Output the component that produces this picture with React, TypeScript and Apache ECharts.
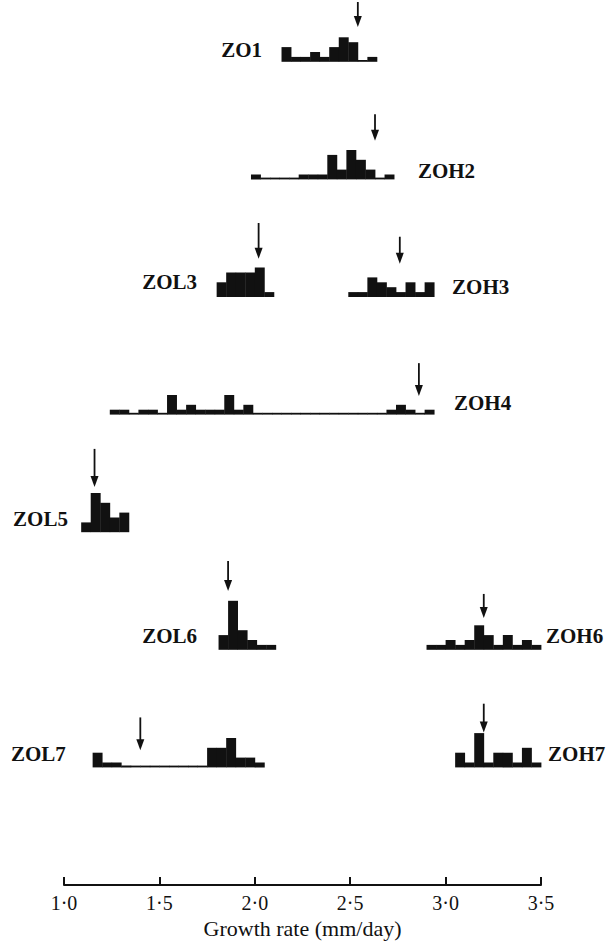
import React, { useEffect, useRef } from "react";
import * as echarts from "echarts";

// ---- data ----
const histNames = ["ZO1", "ZOH2", "ZOL3", "ZOH3", "ZOH4", "ZOL5", "ZOL6", "ZOH6", "ZOL7", "ZOH7"];
const histRows = [7, 6, 5, 5, 4, 3, 2, 2, 1, 1];
const histStarts = [2.14, 1.98, 1.8, 2.49, 1.24, 1.09, 1.81, 2.9, 1.15, 3.05];
const binWidth = 0.05;

const countsZO1 = [3, 1, 1, 2, 1, 3, 5, 4, 0, 1];
const countsZOH2 = [1, 0, 0, 0, 0, 1, 1, 1, 5, 2, 6, 4, 2, 0, 1];
const countsZOL3 = [3, 5, 5, 5, 6, 1];
const countsZOH3 = [1, 1, 4, 3, 2, 1, 3, 1, 3];
const countsZOH4 = [1, 1, 0, 1, 1, 0, 4, 1, 2, 1, 1, 1, 4, 1, 2, 0, 0, 0, 0, 0, 0, 0, 0, 0, 0, 0, 0, 0, 0, 1, 2, 1, 0, 1];
const countsZOL5 = [2, 8, 6, 3, 4];
const countsZOL6 = [3, 10, 4, 2, 1, 1];
const countsZOH6 = [1, 1, 2, 1, 2, 5, 3, 1, 3, 1, 2, 1];
const countsZOL7 = [3, 1, 1, 0, 0, 0, 0, 0, 0, 0, 0, 0, 4, 4, 6, 2, 2, 1];
const countsZOH7 = [3, 1, 7, 1, 3, 3, 1, 4, 1];
const histCounts = [countsZO1, countsZOH2, countsZOL3, countsZOH3, countsZOH4, countsZOL5, countsZOL6, countsZOH6, countsZOL7, countsZOH7];

// arrow (mean) positions, mm/day
const arrowValues = [2.54, 2.63, 2.02, 2.76, 2.86, 1.16, 1.86, 3.2, 1.4, 3.2];

const xTicks = [1.0, 1.5, 2.0, 2.5, 3.0, 3.5];

// ---- layout (count units above each row baseline) ----
const rowSpacing = 24;
const arrowTip = [7.1, 7.9, 7.8, 6.8, 3.8, 9.2, 12, 6.5, 3.5, 7.1];
const arrowLen = [5.1, 5.4, 7.3, 5.5, 6.7, 7.8, 6.1, 4.9, 6.7, 5.9];
const labelX = [2.038, 2.855, 1.697, 3.034, 3.044, 0.733, 1.697, 3.526, 0.722, 3.537];
const labelAlign = ["right", "left", "right", "left", "left", "left", "right", "left", "left", "left"];
const labelLift = [2.5, 1.7, 3.1, 2.1, 2.4, 2.7, 2.9, 2.8, 2.7, 2.7];

const ink = "#111";
const serif = '"Liberation Serif", "DejaVu Serif", serif';

function buildOption() {
  const barData: number[][] = [];
  histCounts.forEach((counts, h) => {
    const base = histRows[h] * rowSpacing;
    counts.forEach((c, i) => {
      const x0 = histStarts[h] + i * binWidth;
      barData.push([x0, x0 + binWidth, base, c]);
    });
  });
  const arrowData = arrowValues.map((v, i) => [v, histRows[i] * rowSpacing, arrowTip[i], arrowLen[i]]);
  const labelData = labelX.map((x, i) => [x, histRows[i] * rowSpacing + labelLift[i]]);

  return {
    animation: false,
    backgroundColor: "#fff",
    grid: { left: 64, right: 75, top: 3, bottom: 61 },
    xAxis: {
      type: "value",
      min: 1,
      max: 3.5,
      interval: 0.5,
      axisLine: { show: true, lineStyle: { color: ink, width: 2 } },
      axisTick: { show: true, inside: true, length: 8, lineStyle: { color: ink, width: 2 } },
      splitLine: { show: false },
      axisLabel: {
        margin: 8,
        color: ink,
        fontFamily: serif,
        fontSize: 20,
        formatter: (v: number) => {
          const t = xTicks.find((k) => Math.abs(k - v) < 1e-6);
          return t === undefined ? "" : t.toFixed(1).replace(".", "·");
        },
      },
      name: "Growth rate (mm/day)",
      nameLocation: "middle",
      nameGap: 29,
      nameTextStyle: { color: ink, fontFamily: serif, fontSize: 22 },
    },
    yAxis: { type: "value", min: 0, max: 180, show: false },
    series: [
      {
        type: "custom",
        name: "bars",
        data: barData,
        encode: { x: [0, 1], y: [2, 3] },
        renderItem: (params: any, api: any) => {
          const x0 = api.value(0), x1 = api.value(1), base = api.value(2), c = api.value(3);
          const p0 = api.coord([x0, base]);
          const p1 = api.coord([x1, base + c]);
          if (c === 0) {
            return { type: "rect", shape: { x: p0[0], y: p0[1] - 1.8, width: p1[0] - p0[0] + 0.4, height: 1.8 }, style: { fill: ink } };
          }
          return { type: "rect", shape: { x: p0[0], y: p1[1], width: p1[0] - p0[0] + 0.4, height: p0[1] - p1[1] }, style: { fill: ink } };
        },
      },
      {
        type: "custom",
        name: "arrows",
        data: arrowData,
        encode: { x: 0, y: 1 },
        renderItem: (params: any, api: any) => {
          const v = api.value(0), base = api.value(1), tipOff = api.value(2), len = api.value(3);
          const tip = api.coord([v, base + tipOff]);
          const top = api.coord([v, base + tipOff + len]);
          const x = tip[0];
          return {
            type: "group",
            children: [
              { type: "line", shape: { x1: x, y1: top[1], x2: x, y2: tip[1] - 8 }, style: { stroke: ink, lineWidth: 1.8 } },
              { type: "polygon", shape: { points: [[x - 4, tip[1] - 11], [x + 4, tip[1] - 11], [x, tip[1]]] }, style: { fill: ink } },
            ],
          };
        },
      },
      {
        type: "custom",
        name: "labels",
        data: labelData,
        encode: { x: 0, y: 1 },
        renderItem: (params: any, api: any) => {
          const p = api.coord([api.value(0), api.value(1)]);
          const i = params.dataIndex;
          return {
            type: "text",
            x: p[0],
            y: p[1],
            style: {
              text: histNames[i],
              fill: ink,
              font: `bold 21px ${serif}`,
              align: labelAlign[i],
              verticalAlign: "middle",
            },
          };
        },
      },
    ],
  };
}

export default function App() {
  const ref = useRef<HTMLDivElement>(null);
  useEffect(() => {
    const chart = echarts.init(ref.current!, null, { renderer: "svg" });
    chart.setOption(buildOption() as any);
    return () => chart.dispose();
  }, []);
  return (
    <div
      ref={ref}
      style={{ position: "fixed", left: 0, top: 0, width: 616, height: 946, background: "#fff" }}
    />
  );
}
